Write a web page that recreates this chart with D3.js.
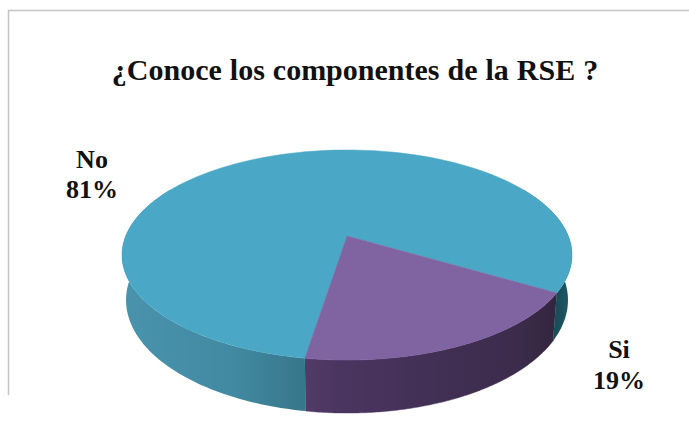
<!DOCTYPE html>
<html><head><meta charset="utf-8">
<script src="https://cdn.jsdelivr.net/npm/d3@7"></script>
<style>html,body{margin:0;background:#fff}svg{display:block}text{font-family:"Liberation Serif",serif;font-weight:bold;fill:#111}</style>
</head><body><svg width="689" height="421"></svg>
<script>
const categories = ["No", "Si"];
const values = [81, 19];
const labels = ["81%", "19%"];
const colors = ["#4aa8c6", "#8064a2"];
const titleText = "¿Conoce los componentes de la RSE ?";

const svg = d3.select("svg");
const defs = svg.append("defs");
function grad(id, stops) {
  const x0 = stops[0][0], x1 = stops[stops.length - 1][0];
  const g = defs.append("linearGradient").attr("id", id).attr("gradientUnits", "userSpaceOnUse")
    .attr("x1", x0).attr("x2", x1).attr("y1", 0).attr("y2", 0);
  stops.forEach(s => g.append("stop").attr("offset", (s[0] - x0) / (x1 - x0)).attr("stop-color", s[1]));
}
grad("sideNo", [[122, "#4a93ad"], [230, "#428aa2"], [305, "#37768a"]]);
grad("sideSi", [[305, "#533a68"], [340, "#4a3560"], [520, "#3c2b4b"], [565, "#30243c"]]);
grad("sideNoR", [[553, "#174a55"], [572, "#1f5a68"]]);

svg.append("path").attr("d", "M8.5 395V10.5H689").attr("fill", "none").attr("stroke", "#c4c4c4").attr("stroke-width", 1.5);

// perspective projection of the pie disc; the rim's lower edge has its own scale
const cx = 347, cy = 236, A = 221.3, B = 101.6, k = 0.181;
const rimDrop = 43.6, rimSx = 0.982, rimSy = 1.076;
function project(a, drop, sx, sy) {
  const u = Math.sin(a), v = -Math.cos(a), w = 1 - k * v;
  return [cx + sx * A * u / w, cy + drop + sy * B * v / w];
}
const line = d3.line();
const rad = d => d * Math.PI / 180;
const startAngle = rad(189);
const pie = d3.pie().sort(null).startAngle(startAngle).endAngle(startAngle + 2 * Math.PI)(values);
const sweep = (a0, a1, drop, sx, sy) => d3.range(0, 121).map(i => project(a0 + (a1 - a0) * i / 120, drop, sx, sy));
const side = (a0, a1) => line(sweep(a0, a1, 0, 1, 1).concat(sweep(a1, a0, rimDrop, rimSx, rimSy))) + "Z";

const no = pie[0], si = pie[1];
const siA0 = si.startAngle - 2 * Math.PI, siA1 = si.endAngle - 2 * Math.PI;
svg.append("path").attr("d", side(siA0, siA1)).attr("fill", "url(#sideSi)").attr("stroke", "url(#sideSi)").attr("stroke-width", 0.4);
svg.append("path").attr("d", side(startAngle, rad(300))).attr("fill", "url(#sideNo)");
svg.append("path").attr("d", side(rad(60), siA0)).attr("fill", "url(#sideNoR)");

pie.forEach((d, i) => {
  const pts = [[cx, cy]].concat(sweep(d.startAngle, d.endAngle, 0, 1, 1));
  svg.append("path").attr("d", line(pts) + "Z").attr("fill", colors[i]).attr("stroke", colors[i]).attr("stroke-width", 0.5);
});

svg.append("text").attr("x", 355).attr("y", 80).attr("text-anchor", "middle").attr("font-size", 30).attr("word-spacing", 0.5).text(titleText);

const labelPos = [[92, 168, 198], [619, 358, 389]];
categories.forEach((c, i) => {
  const p = labelPos[i];
  svg.append("text").attr("x", p[0]).attr("y", p[1]).attr("text-anchor", "middle").attr("font-size", 26).text(c);
  svg.append("text").attr("x", p[0]).attr("y", p[2]).attr("text-anchor", "middle").attr("font-size", 26).text(labels[i]);
});
</script></body></html>
